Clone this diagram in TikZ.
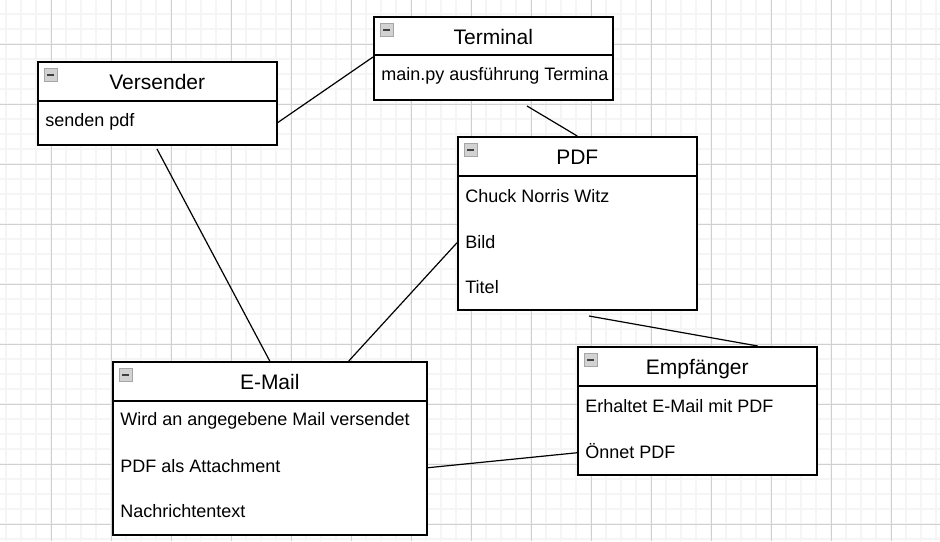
\documentclass[tikz,border=0pt]{standalone}
\usepackage{fontspec}
\setmainfont{Liberation Sans}
\usepackage{xcolor}
\usepackage{tikz}
\usetikzlibrary{positioning}

\newcommand{\minusicon}[1]{%
	\draw[draw=gray!70, fill=gray!35, line width=0.5pt] ([shift={(7,7)}]#1.north west) rectangle ++(13,13);
	\draw[black!75, line width=1pt] ([shift={(10,13.5)}]#1.north west) -- ++(7,0);
}

\begin{document}
\begin{tikzpicture}[x=0.5pt, y=-0.5pt, font=\fontsize{9}{11}\selectfont,
		gridminor/.style={gray!8, line width=0.9pt},
		gridmajor/.style={gray!37, line width=0.5pt},
		head/.style={draw, fill=white, line width=0.75pt, inner sep=0pt, anchor=north west,
			minimum width=119.5pt, minimum height=19.5pt, text height=10.5pt, text depth=2pt,
			font=\fontsize{10.5}{12}\selectfont},
		body/.style={draw, fill=white, line width=0.75pt, inner sep=0pt, anchor=north west,
			minimum width=119.5pt},
		item/.style={inner sep=0pt, anchor=west, yshift=-1pt},
		conn/.style={line width=0.6pt}]
			\useasboundingbox (0,0) rectangle (940,541);

			% Background grid
			\begin{scope}
				\clip (0,0) rectangle (940,541);
				\foreach \i in {0,...,62} \draw[gridminor] ({6.3+15*\i},0) -- ++(0,541);
				\foreach \j in {0,...,36} \draw[gridminor] (0,{14.3+15*\j}) -- ++(940,0);
				\foreach \i in {0,...,16} \draw[gridmajor] ({-8.7+60*\i},0) -- ++(0,541);
				\foreach \j in {0,...,9} \draw[gridmajor] (0,{44.3+60*\j}) -- ++(940,0);
			\end{scope}

			% Versender
			\node[head] (versHead) at (37,61) {Versender};
			\node[body, minimum height=22pt] (versBody) at (37,100) {};
			\node[item] (versA) at (45,120) {senden pdf};
			\minusicon{versHead}

			% Terminal
			\node[head, minimum height=19pt] (termHead) at (373,16) {Terminal};
			\node[body, minimum height=22.5pt] (termBody) at (373,54) {};
			\node[item] (termA) at (381,74) {main.py ausführung Termina};
			\minusicon{termHead}

			% PDF
			\node[head] (pdfHead) at (457,136) {PDF};
			\node[body, minimum height=67pt] (pdfBody) at (457,175) {};
			\node[item] (pdfA) at (465,194) {Chuck Norris Witz};
			\node[item] (pdfB) at (465,240) {Bild};
			\node[item] (pdfC) at (465,285) {Titel};
			\minusicon{pdfHead}

			% E-Mail
			\node[head, minimum width=157pt] (mailHead) at (112,361) {E-Mail};
			\node[body, minimum width=157pt, minimum height=67pt] (mailBody) at (112,400) {};
			\node[item] (mailA) at (120,419) {Wird an angegebene Mail versendet};
			\node[item] (mailB) at (120,464) {PDF als Attachment};
			\node[item] (mailC) at (120,509) {Nachrichtentext};
			\minusicon{mailHead}

			% Empfaenger
			\node[head] (empfHead) at (577,346) {Empfänger};
			\node[body, minimum height=44.5pt] (empfBody) at (577,385) {};
			\node[item] (empfA) at (585,404) {Erhaltet E-Mail mit PDF};
			\node[item] (empfB) at (585,449) {Önnet PDF};
			\minusicon{empfHead}

			% Connections
			\coordinate (versOut) at (157,149);
			\coordinate (termOut) at (527,106);
			\coordinate (pdfOut) at (589,316);
			\draw[conn] (versBody.east) -- ([yshift=-1.5pt]termBody.north west);
			\draw[conn] (termOut) -- (pdfHead.north);
			\draw[conn] (versOut) -- (mailHead.north);
			\draw[conn] (pdfBody.west) -- ([xshift=39.5pt]mailHead.north);
			\draw[conn] (pdfOut) -- ([xshift=30.25pt]empfHead.north);
			\draw[conn] (mailBody.east) -- ([yshift=-11.25pt]empfBody.west);
		\end{tikzpicture}
\end{document}
